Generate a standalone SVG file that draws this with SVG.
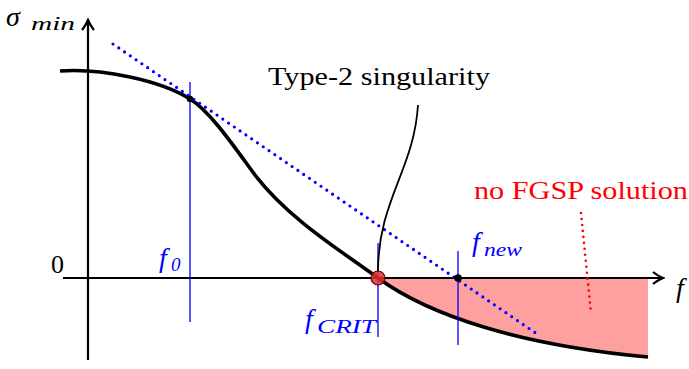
<svg xmlns="http://www.w3.org/2000/svg" width="689" height="369" viewBox="0 0 689 369">
<style>
.ax{stroke:#000;stroke-width:2.2;fill:none}
.cv{stroke:#000;stroke-width:3.6;fill:none}
.vl{stroke:#0000ff;stroke-width:1.3}
.dot{stroke:#0000ff;stroke-width:3.2;stroke-dasharray:0 7;stroke-linecap:round;fill:none}
.rdot{stroke:#ff0000;stroke-width:2.6;stroke-dasharray:0 6;stroke-linecap:round;fill:none}
text{font-family:"Liberation Serif","Noto Serif","Tinos","Times New Roman","FreeSerif","Nimbus Roman","DejaVu Serif",serif}
.lbl{font-size:26px}
.math{font-style:italic;font-size:28px}
.sub{font-style:italic;font-size:19px}
</style>
<defs>
<marker id="arr" markerWidth="14" markerHeight="14" refX="12" refY="7" orient="auto" markerUnits="userSpaceOnUse">
<path d="M2,1 Q7,5 12,7 Q7,9 2,13" fill="none" stroke="#000" stroke-width="2.2"/>
</marker>
</defs>
<g id="region">
<path d="M378,278 L648,278 L648,357 C520,345 430,316 378,278 Z" fill="#ffa0a0"/>
</g>
<g id="axes">
<line class="ax" x1="88" y1="360" x2="88" y2="20" marker-end="url(#arr)"/>
<line class="ax" x1="63" y1="278" x2="663" y2="278" marker-end="url(#arr)"/>
</g>
<g id="curve">
<path class="cv" d="M60,71 C100,68 160,80 190,99 C210,111 235,148 255,175 C290,220 340,250 378,278 C430,316 520,345 648,357"/>
</g>
<g id="connectors">
<line class="dot" x1="113" y1="44" x2="540" y2="336"/>
<line class="vl" x1="190" y1="82" x2="190" y2="322"/>
<line class="vl" x1="378" y1="243" x2="378" y2="337"/>
<line class="vl" x1="458" y1="251" x2="458" y2="345"/>
<line class="rdot" x1="581" y1="213" x2="591" y2="313"/>
<path d="M418,105 C414,170 378,200 378,272" fill="none" stroke="#000" stroke-width="1.8"/>
</g>
<g id="points">
<circle cx="190" cy="99" r="3.2" fill="#000"/>
<circle cx="458" cy="278" r="3.8" fill="#000"/>
<circle cx="378" cy="278" r="7" fill="#e03030" stroke="#600" stroke-width="1.2" fill-opacity="0.85"/>
</g>
<g id="labels">
<text class="math" x="6" y="26" font-size="31">σ</text>
<text class="sub" x="31" y="30" textLength="44" lengthAdjust="spacingAndGlyphs">min</text>
<text class="lbl" x="51" y="273">0</text>
<text class="math" x="676" y="297">f</text>
<text class="math" x="159" y="267" fill="#0000ff">f</text>
<text class="sub" x="171" y="271" fill="#0000ff" font-style="normal">0</text>
<text class="math" x="305" y="328" fill="#0000ff">f</text>
<text class="sub" x="317" y="333" fill="#0000ff" textLength="59" lengthAdjust="spacingAndGlyphs" font-size="17">CRIT</text>
<text class="math" x="472" y="251" fill="#0000ff">f</text>
<text class="sub" x="484" y="256" fill="#0000ff" textLength="38" lengthAdjust="spacingAndGlyphs">new</text>
<text class="lbl" x="268" y="85" fill="#000" textLength="222" lengthAdjust="spacingAndGlyphs">Type-2 singularity</text>
<text class="lbl" x="474" y="199" fill="#ff0000" textLength="214" lengthAdjust="spacingAndGlyphs">no FGSP solution</text>
</g>
</svg>
